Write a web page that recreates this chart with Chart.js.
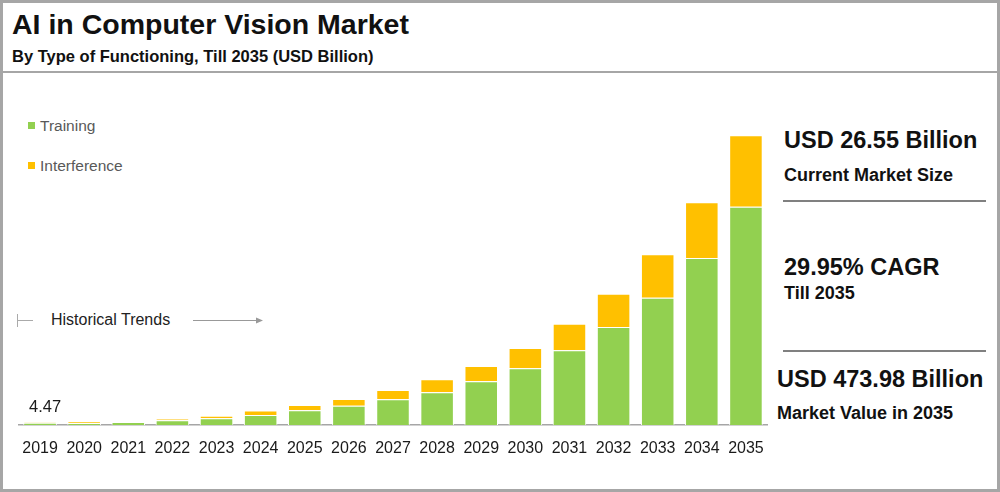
<!DOCTYPE html>
<html>
<head>
<meta charset="utf-8">
<script src="https://cdn.jsdelivr.net/npm/chart.js@4.4.1/dist/chart.umd.min.js"></script>
<style>
    html, body { margin: 0; padding: 0; }
    body {
        width: 1000px; height: 492px; position: relative; overflow: hidden;
        background: #a6a6a6;
        font-family: "Liberation Sans", Arial, sans-serif;
    }
    .box { position: absolute; background: #fff; }
    .t { position: absolute; line-height: 1; white-space: nowrap; color: #111; }
    .b { font-weight: bold; }
    .rule { position: absolute; height: 2px; background: #808080; }
    .legend-item { position: absolute; left: 28px; font-size: 15.5px; line-height: 1; color: #595959; white-space: nowrap; }
    .legend-item span { display: inline-block; width: 7px; height: 7px; margin-right: 5px; vertical-align: 2px; }
    #chartWrap { position: absolute; left: 18px; top: 90px; width: 750px; height: 370px; }
    svg { position: absolute; left: 0; top: 0; }
</style>
</head>
<body>
<div class="box" style="left:3px; top:3px; width:994px; height:68px;"></div>
<div class="box" style="left:3px; top:73px; width:994px; height:416px;"></div>

<div class="t b" style="left:12px; top:10px; font-size:28.5px;">AI in Computer Vision Market</div>
<div class="t b" style="left:12px; top:48px; font-size:16.5px;">By Type of Functioning, Till 2035 (USD Billion)</div>

<div id="legend"></div>

<div class="t" style="left:51px; top:312px; font-size:16px; color:#222;">Historical Trends</div>
<svg width="1000" height="492">
    <line x1="17.5" y1="314" x2="17.5" y2="327" stroke="#aaa" stroke-width="1"/>
    <line x1="17" y1="320.5" x2="33" y2="320.5" stroke="#aaa" stroke-width="1"/>
    <line x1="193" y1="320.5" x2="258" y2="320.5" stroke="#999" stroke-width="1"/>
    <path d="M256 317.5 L263 320.5 L256 323.5 Z" fill="#999"/>
</svg>

<div id="chartWrap"><canvas id="marketChart"></canvas></div>

<div class="t b" style="left:784px; top:129px; font-size:23.5px;">USD 26.55 Billion</div>
<div class="t b" style="left:784px; top:166px; font-size:18px;">Current Market Size</div>
<div class="rule" style="left:783px; top:200px; width:203px;"></div>
<div class="t b" style="left:784px; top:256px; font-size:23.5px;">29.95% CAGR</div>
<div class="t b" style="left:784px; top:284px; font-size:18px;">Till 2035</div>
<div class="rule" style="left:783px; top:350px; width:203px;"></div>
<div class="t b" style="left:777px; top:368px; font-size:23.5px;">USD 473.98 Billion</div>
<div class="t b" style="left:777px; top:404px; font-size:18px;">Market Value in 2035</div>

<script>
const years = ["2019", "2020", "2021", "2022", "2023", "2024", "2025", "2026", "2027",
    "2028", "2029", "2030", "2031", "2032", "2033", "2034", "2035"];
const training = [3.5, 3.2, 4.8, 7.6, 11.0, 16.5, 24.0, 31.6, 42.0,
    53.5, 71.5, 92.8, 122.2, 160.3, 208.3, 273.2, 357.2];
const interference = [0.97, 2.2, 0.4, 2.8, 4.2, 7.2, 8.7, 10.9, 15.3,
    21.3, 25.0, 33.2, 43.5, 54.5, 71.0, 91.2, 116.8];
// only the first bar carries a value label
const totalLabels = ["4.47", null, null, null, null, null, null, null, null,
    null, null, null, null, null, null, null, null];

const GREEN = "#92d050";
const YELLOW = "#ffc000";
const FONT = '"Liberation Sans", Arial, sans-serif';

// label above the bars
const valueLabels = {
    id: "valueLabels",
    afterDatasetsDraw(chart) {
        const meta = chart.getDatasetMeta(1);
        const ctx = chart.ctx;
        ctx.save();
        ctx.font = "16.5px " + FONT;
        ctx.fillStyle = "#1a1a1a";
        ctx.textAlign = "center";
        ctx.textBaseline = "alphabetic";
        totalLabels.forEach((lbl, i) => {
            if (lbl === null) return;
            const bar = meta.data[i];
            ctx.fillText(lbl, bar.x + 5, bar.y - 10);
        });
        ctx.restore();
    }
};

const datasets = [
    { label: "Training", data: training, backgroundColor: GREEN },
    { label: "Interference", data: interference, backgroundColor: YELLOW }
].map(ds => Object.assign(ds, {
    borderColor: "#ffffff",
    borderWidth: 1,
    categoryPercentage: 1,
    barPercentage: 0.76
}));

// html legend built from the datasets
const legendEl = document.getElementById("legend");
datasets.forEach((ds, i) => {
    const item = document.createElement("div");
    item.className = "legend-item";
    item.style.top = (118 + i * 40) + "px";
    item.innerHTML = `<span style="background:${ds.backgroundColor}"></span>${ds.label}`;
    legendEl.appendChild(item);
});

const ctx = document.getElementById("marketChart").getContext("2d");
new Chart(ctx, {
    type: "bar",
    data: { labels: years, datasets: datasets },
    options: {
        responsive: true,
        maintainAspectRatio: false,
        animation: false,
        layout: { padding: 0 },
        plugins: {
            legend: { display: false },
            tooltip: { enabled: false }
        },
        scales: {
            x: {
                stacked: true,
                grid: { display: false, drawTicks: false },
                border: { display: true, color: "#a6a6a6", width: 1.5 },
                ticks: {
                    color: "#1a1a1a",
                    font: { family: FONT, size: 16 },
                    padding: 14,
                    maxRotation: 0,
                    autoSkip: false
                },
                afterFit(scale) {
                    scale.height = 35;
                    // keep the bars spread over the full canvas width
                    scale.paddingLeft = 0;
                    scale.paddingRight = 0;
                }
            },
            y: {
                stacked: true,
                display: false,
                min: 0,
                max: 548
            }
        }
    },
    plugins: [valueLabels]
});
</script>
</body>
</html>
